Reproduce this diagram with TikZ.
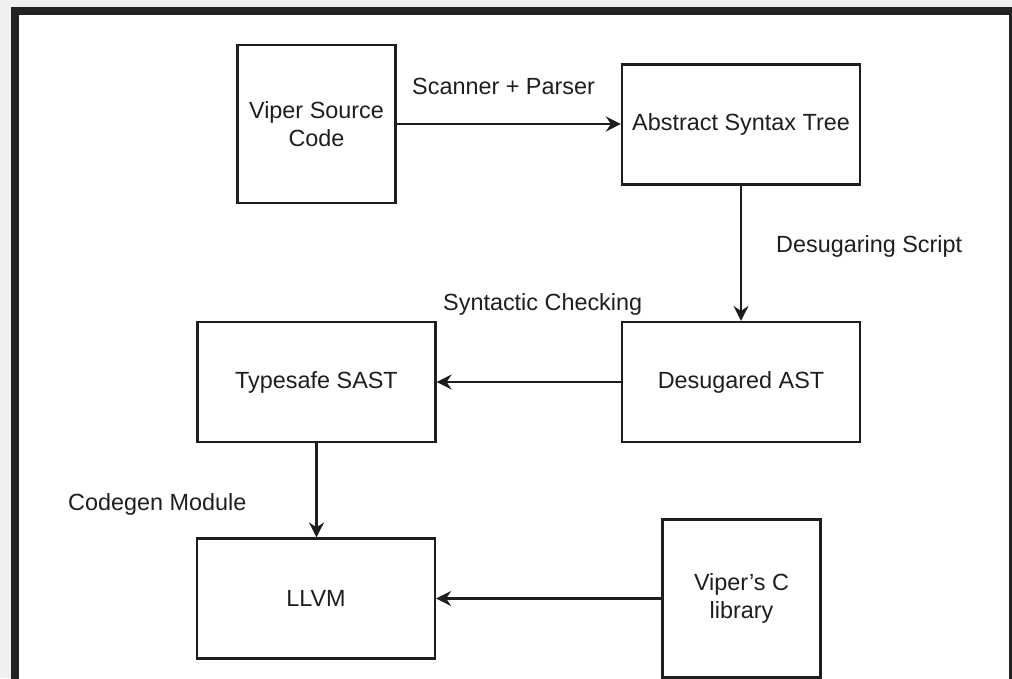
\documentclass[tikz,border=0pt]{standalone}
\usepackage{fontspec}
\setmainfont{Liberation Sans}
\usetikzlibrary{arrows.meta}
\definecolor{ink}{HTML}{1E1E1E}
\definecolor{bgshade}{HTML}{EFEFEF}
\definecolor{framecol}{HTML}{232323}
\begin{document}
\begin{tikzpicture}[x=1pt,y=-1pt,
  box/.style={draw=ink, line width=2.2pt, inner sep=0pt, align=center, text=ink,
    font=\fontsize{23.4}{27.5}\selectfont},
  wide/.style={box, minimum width=238pt, minimum height=120pt},
  square/.style={box, minimum width=158pt, minimum height=158pt},
  flow/.style={draw=ink, line width=2.2pt, -{Stealth[length=15pt,width=15pt,inset=5pt]}},
  edgetext/.style={inner sep=0pt, text=ink, anchor=base west,
    font=\fontsize{23.4}{27.5}\selectfont}]
  % canvas and window frame
  \clip (0,0) rectangle (1012,678);
  \fill[bgshade] (0,0) rectangle (1012,678);
  \fill[framecol] (11,7) rectangle (1030,700);
  \fill[white] (19,15) rectangle (1009,700);

  % pipeline stages
  \node[square] (src)  at (316.5,124)   {Viper Source\\Code};
  \node[wide]   (ast)  at (741,124.5)   {Abstract Syntax Tree};
  \node[wide]   (dast) at (741,382)     {Desugared AST};
  \node[wide]   (sast) at (316.5,382)   {Typesafe SAST};
  \node[wide]   (llvm) at (316,598.5)   {LLVM};
  \node[square] (clib) at (741.5,598.5) {Viper's C\\library};

  % stage labels
  \node[edgetext] (lscan)  at (412,94)    {Scanner + Parser};
  \node[edgetext] (ldesug) at (776,252.5) {Desugaring Script};
  \node[edgetext] (lsyn)   at (443,310)   {Syntactic Checking};
  \node[edgetext] (lcode)  at (68,510)    {Codegen Module};

  % transitions
  \draw[flow] (src.east) -- (src.east -| ast.west);
  \draw[flow] (ast.south) -- (dast.north);
  \draw[flow] (dast.west) -- (sast.east);
  \draw[flow] (sast.south) -- (sast.south |- llvm.north);
  \draw[flow] (clib.west) -- (clib.west -| llvm.east);
\end{tikzpicture}
\end{document}
